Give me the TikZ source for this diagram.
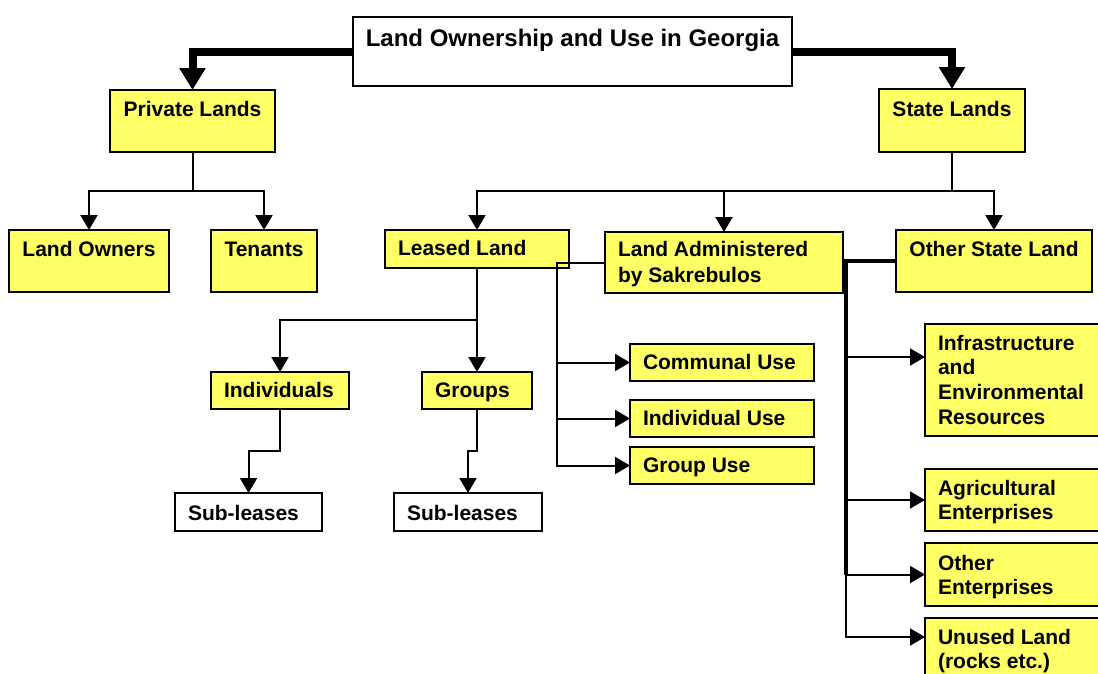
\documentclass[tikz,border=0pt]{standalone}
\usepackage{fontspec}
\setmainfont{Liberation Sans}
\usetikzlibrary{arrows.meta}
\definecolor{yel}{HTML}{FFFF66}
\begin{document}
\begin{tikzpicture}[x=1pt,y=-1pt,
  ybox/.style={draw=black, line width=2pt, fill=yel, anchor=north west, inner sep=0pt, outer sep=0pt},
  wbox/.style={ybox, fill=white},
  txt/.style={font=\fontsize{21}{25}\selectfont\bfseries, inner sep=0pt, outer sep=0pt, align=left},
  ttl/.style={font=\fontsize{24}{28}\selectfont\bfseries, inner sep=0pt, outer sep=0pt},
  wire/.style={line width=2pt},
  conn/.style={wire, -{Triangle[width=17pt,length=15pt]}},
  bigarrow/.style={line width=8pt, -{Triangle[width=25pt,length=22pt]}},
  trunk/.style={line width=4pt},
]
\useasboundingbox (0,0) rectangle (1098,673);
\fill[white] (0,0) rectangle (1098,673);

% boxes
\node[wbox, minimum width=439pt, minimum height=69pt] (title) at (353,17) {};
\node[ttl, anchor=base] (titlet) at ([yshift=-29pt]title.north) {Land Ownership and Use in Georgia};

\node[ybox, minimum width=165pt, minimum height=62pt] (pl) at (110,90) {};
\node[txt, anchor=base] (plt) at ([yshift=-26pt]pl.north) {Private Lands};
\node[ybox, minimum width=146pt, minimum height=63pt] (sl) at (879,89) {};
\node[txt, anchor=base] (slt) at ([yshift=-27pt]sl.north) {State Lands};

\node[ybox, minimum width=160pt, minimum height=62pt] (lo) at (9,230) {};
\node[txt, anchor=base] (lot) at ([yshift=-26pt]lo.north) {Land Owners};
\node[ybox, minimum width=106pt, minimum height=62pt] (te) at (211,230) {};
\node[txt, anchor=base] (tet) at ([yshift=-26pt]te.north) {Tenants};

\node[ybox, minimum width=184pt, minimum height=38pt] (ll) at (385,230) {};
\node[txt, anchor=base west] (llt) at ([shift={(13pt,-25pt)}]ll.north west) {Leased Land};
\node[ybox, minimum width=238pt, minimum height=61pt] (sak) at (605,232) {};
\node[txt, anchor=north west, font=\fontsize{21}{26}\selectfont\bfseries] (sakt) at ([shift={(13pt,-8.5pt)}]sak.north west) {\rule{0pt}{15.5pt}Land Administered\\by Sakrebulos};
\node[ybox, minimum width=196pt, minimum height=62pt] (osl) at (896,230) {};
\node[txt, anchor=base] (oslt) at ([yshift=-26pt]osl.north) {Other State Land};

\node[ybox, minimum width=138pt, minimum height=37pt] (ind) at (211,372) {};
\node[txt, anchor=base west] (indt) at ([shift={(13pt,-25pt)}]ind.north west) {Individuals};
\node[ybox, minimum width=110pt, minimum height=37pt] (gr) at (422,372) {};
\node[txt, anchor=base west] (grt) at ([shift={(13pt,-25pt)}]gr.north west) {Groups};

\node[wbox, minimum width=147pt, minimum height=38pt] (sub1) at (175,493) {};
\node[txt, anchor=base west] (sub1t) at ([shift={(13pt,-27pt)}]sub1.north west) {Sub-leases};
\node[wbox, minimum width=148pt, minimum height=38pt] (sub2) at (394,493) {};
\node[txt, anchor=base west] (sub2t) at ([shift={(13pt,-27pt)}]sub2.north west) {Sub-leases};

\node[ybox, minimum width=184pt, minimum height=37pt] (cu) at (630,344) {};
\node[txt, anchor=base west] (cut) at ([shift={(13pt,-25pt)}]cu.north west) {Communal Use};
\node[ybox, minimum width=184pt, minimum height=37pt] (iu) at (630,400) {};
\node[txt, anchor=base west] (iut) at ([shift={(13pt,-25pt)}]iu.north west) {Individual Use};
\node[ybox, minimum width=184pt, minimum height=37pt] (gu) at (630,447) {};
\node[txt, anchor=base west] (gut) at ([shift={(13pt,-25pt)}]gu.north west) {Group Use};

\node[ybox, minimum width=200pt, minimum height=112pt] (inf) at (925,324) {};
\node[txt, anchor=north west, font=\fontsize{21}{24.7}\selectfont\bfseries] (inft) at ([shift={(13pt,-10.5pt)}]inf.north west) {\rule{0pt}{15.5pt}Infrastructure\\and\\Environmental\\Resources};
\node[ybox, minimum width=200pt, minimum height=62pt] (ag) at (925,469) {};
\node[txt, anchor=north west, font=\fontsize{21}{24}\selectfont\bfseries] (agt) at ([shift={(13pt,-10.5pt)}]ag.north west) {\rule{0pt}{15.5pt}Agricultural\\Enterprises};
\node[ybox, minimum width=200pt, minimum height=63pt] (oe) at (925,543) {};
\node[txt, anchor=north west, font=\fontsize{21}{24}\selectfont\bfseries] (oet) at ([shift={(13pt,-11.5pt)}]oe.north west) {\rule{0pt}{15.5pt}Other\\Enterprises};
\node[ybox, minimum width=200pt, minimum height=72pt] (un) at (925,618) {};
\node[txt, anchor=north west, font=\fontsize{21}{24}\selectfont\bfseries] (unt) at ([shift={(13pt,-10.5pt)}]un.north west) {\rule{0pt}{15.5pt}Unused Land\\(rocks etc.)};

% junction coordinates
\coordinate (pj) at (0,191);
\coordinate (lj) at (0,320);
\coordinate (ij) at (0,451);
\coordinate (kj) at (557,0);
\coordinate (oj) at (846,0);
\coordinate (y357) at (0,357);
\coordinate (y637) at (0,637);

% connectors
\draw[bigarrow] (title.west) -| (pl.north);
\draw[bigarrow] (title.east) -| (sl.north);

\draw[conn] (pl.south) -- (pl.south |- pj) -| (lo.north);
\draw[conn] (pl.south) -- (pl.south |- pj) -| (te.north);

\draw[conn] (sl.south) -- (sl.south |- pj) -| (ll.north);
\draw[conn] (sl.south) -- (sl.south |- pj) -| (sak.north);
\draw[conn] (sl.south) -- (sl.south |- pj) -| (osl.north);

\draw[conn] (ll.south) -- (gr.north);
\draw[conn] (ll.south) -- (ll.south |- lj) -| (ind.north);

\draw[conn] (ind.south) -- (ind.south |- ij) -| (sub1.north);
\draw[conn] (gr.south) -- (gr.south |- ij) -| (sub2.north);

\draw[conn] (sak.west) -- (sak.west -| kj) |- (cu.west);
\draw[conn] (sak.west) -- (sak.west -| kj) |- (iu.west);
\draw[conn] (sak.west) -- (sak.west -| kj) |- (gu.west);

\draw[trunk] (osl.west) -- (osl.west -| oj) -- (oj |- oe.west);
\draw[conn] (osl.west -| oj) |- (inf.west |- y357);
\draw[conn] (osl.west -| oj) |- (ag.west);
\draw[conn] (osl.west -| oj) |- (oe.west);
\draw[conn] (osl.west -| oj) |- (un.west |- y637);
\end{tikzpicture}
\end{document}
